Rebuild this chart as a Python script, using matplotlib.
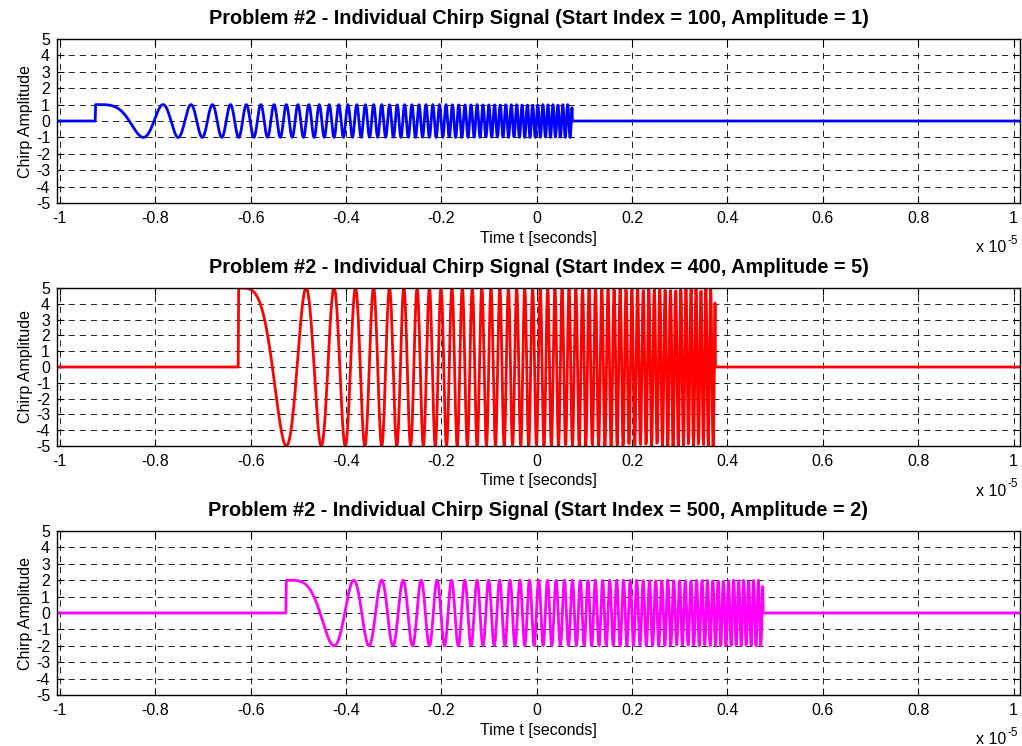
import numpy as np
import matplotlib
matplotlib.use('Agg')
import matplotlib.pyplot as plt
from matplotlib.ticker import FuncFormatter

plt.rcParams['font.family'] = ['Liberation Sans', 'DejaVu Sans']
plt.rcParams['axes.unicode_minus'] = False
plt.rcParams['lines.scale_dashes'] = False

# chirp settings
FS = 100e6            # sample rate (Hz)
PULSE_LEN = 1000      # samples per chirp (10 us)
BANDWIDTH = 10e6      # swept bandwidth (Hz)
T_FIRST = -1.025e-5   # time of sample 0
N_TOTAL = 2040

start_indices = [100, 400, 500]
amplitudes = [1, 5, 2]
colors = ['#0000ff', '#ff0000', '#ff00ff']

x_ticks = [-1, -0.8, -0.6, -0.4, -0.2, 0, 0.2, 0.4, 0.6, 0.8, 1]
y_ticks = [-5, -4, -3, -2, -1, 0, 1, 2, 3, 4, 5]
x_limits = [-1.006e-5, 1.0136e-5]

t = T_FIRST + np.arange(N_TOTAL) / FS


def chirp_signal(start_idx, amp):
    T = PULSE_LEN / FS
    k = BANDWIDTH / T
    tau = np.arange(PULSE_LEN) / FS
    sig = np.zeros(N_TOTAL)
    sig[start_idx:start_idx + PULSE_LEN] = amp * np.cos(np.pi * k * tau ** 2)
    return sig


def fmt_x(v, pos):
    val = round(v / 1e-5, 6) + 0.0
    return f'{val:g}'


fig = plt.figure(figsize=(10.22, 7.46), dpi=100)
W, H = 1022, 746
ax_rows = [(39, 203), (288, 446), (531, 695)]
FSZ = 11.5

for (top, bottom), start_idx, amp, col in zip(ax_rows, start_indices, amplitudes, colors):
    ax = fig.add_axes([57 / W, 1 - bottom / H, 963 / W, (bottom - top) / H])
    ax.plot(t, chirp_signal(start_idx, amp), color=col, linewidth=2)

    ax.set_xlim(x_limits)
    ax.set_ylim(-5, 5)
    ax.set_xticks(np.array(x_ticks) * 1e-5)
    ax.set_yticks(y_ticks)
    ax.xaxis.set_major_formatter(FuncFormatter(fmt_x))
    ax.tick_params(direction='in', top=True, right=True, length=5, width=0.8,
                   labelsize=FSZ, pad=6)
    ax.tick_params(axis='y', pad=5)
    ax.grid(True, color='black', linewidth=0.6, linestyle=(0, (4.5, 3.5)))
    for sp in ax.spines.values():
        sp.set_linewidth(1.0)

    ax.set_title(f'Problem #2 - Individual Chirp Signal (Start Index = {start_idx}, Amplitude = {amp})',
                 fontsize=14.3, fontweight='bold', pad=11)
    ax.set_xlabel('Time t [seconds]', fontsize=FSZ, labelpad=3)
    ax.set_ylabel('Chirp Amplitude', fontsize=FSZ, labelpad=2)

    # exponent note under the right end of the x axis
    y_note = 1 - (bottom + 45) / H
    fig.text(1006 / W, y_note, 'x 10', fontsize=FSZ, ha='right', va='center')
    fig.text(1007 / W, y_note + 7 / H, '-5', fontsize=8.5, ha='left', va='center')

fig.savefig('out.png', dpi=100)
